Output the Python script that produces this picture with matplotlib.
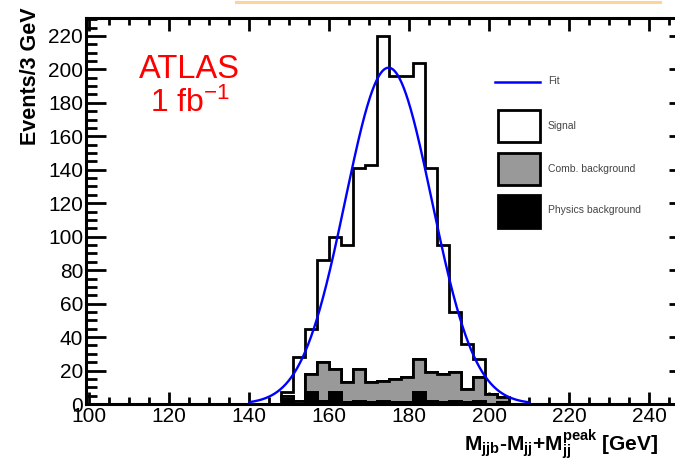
import numpy as np
import matplotlib
matplotlib.use("Agg")
import matplotlib.pyplot as plt
from matplotlib.lines import Line2D
from matplotlib.patches import Rectangle
from matplotlib.ticker import MultipleLocator

plt.rcParams["font.family"] = ["Liberation Sans", "DejaVu Sans"]
plt.rcParams["mathtext.fontset"] = "custom"
plt.rcParams["mathtext.rm"] = "Liberation Sans"
plt.rcParams["mathtext.bf"] = "Liberation Sans:bold"
plt.rcParams["mathtext.it"] = "Liberation Sans:italic"

# 3 GeV bins, lower edges from 148 GeV
bin_low = 148
bin_width = 3
physics_bkg = [3, 0, 7, 2, 7, 1, 2, 1, 2, 1, 1, 7, 2, 1, 2, 1, 2, 0, 1]
comb_bkg = [2, 2, 11, 23, 14, 12, 19, 12, 12, 14, 15, 20, 17, 17, 17, 8, 14, 6, 3]
signal = [2, 26, 27, 61, 79, 82, 120, 130, 206, 181, 180, 177, 122, 77, 36, 27, 11, 0, 0]

# Gaussian fit parameters
fit_amp = 201.0
fit_mean = 174.8
fit_sigma = 10.8
fit_range = (140.0, 210.0)

x_ticks = [100, 120, 140, 160, 180, 200, 220, 240]
y_ticks = [0, 20, 40, 60, 80, 100, 120, 140, 160, 180, 200, 220]

W, H = 675, 459
fig = plt.figure(figsize=(W / 100, H / 100), dpi=100)
ax = fig.add_axes([86 / W, (H - 404) / H, (W - 86) / W, (404 - 18) / H])

edges = bin_low + bin_width * np.arange(len(signal) + 1)
centers = 0.5 * (edges[:-1] + edges[1:])
ax.hist([centers] * 3, bins=edges, weights=[physics_bkg, comb_bkg, signal],
        stacked=True, histtype="stepfilled",
        color=["black", "#999999", "white"], edgecolor="black", linewidth=2.0,
        zorder=2)

xf = np.linspace(fit_range[0], fit_range[1], 400)
yf = fit_amp * np.exp(-0.5 * ((xf - fit_mean) / fit_sigma) ** 2)
ax.plot(xf, yf, color="#0000ff", lw=1.7, zorder=3)

ax.set_xlim(99.18, 246.4)
ax.set_ylim(0, 230.7)

ax.set_xticks(x_ticks)
ax.set_yticks(y_ticks)
ax.xaxis.set_minor_locator(MultipleLocator(5))
ax.yaxis.set_minor_locator(MultipleLocator(5))
ax.tick_params(axis="x", which="both", direction="in", top=True, bottom=True,
               width=2.0, labelsize=15, pad=2)
ax.tick_params(axis="x", which="major", length=9)
ax.tick_params(axis="x", which="minor", length=5)
ax.tick_params(axis="y", which="both", direction="in", left=True, right=False,
               width=2.0, labelsize=15, pad=2)
ax.tick_params(axis="y", which="major", length=14.5)
ax.tick_params(axis="y", which="minor", length=8)
for s in ["left", "bottom", "top"]:
    ax.spines[s].set_linewidth(2.2)
ax.spines["right"].set_visible(False)

# short major ticks on the right edge
axr = ax.twinx()
axr.set_ylim(ax.get_ylim())
axr.set_yticks(y_ticks[1:])
axr.tick_params(axis="y", direction="in", length=4, width=2.0, labelright=False)
for s in axr.spines.values():
    s.set_visible(False)

fig.text(31 / W, 1 - 7 / H, "Events/3 GeV", rotation=90, ha="center", va="top",
         fontsize=15.5, fontweight="bold")
fig.text(658 / W, 1 - 445 / H,
         r"$\mathbf{M_{jjb}}$-$\mathbf{M_{jj}}$+$\mathbf{M_{jj}^{peak}}$ [GeV]",
         ha="right", va="center", fontsize=15, fontweight="bold")

fig.text(189.5 / W, 1 - 69 / H, "ATLAS", color="#ff0000", fontsize=23.5,
         ha="center", va="center")
fig.text(190 / W, 1 - 112 / H, r"1 fb$^{\mathregular{-1}}$", color="#ff0000",
         fontsize=23, ha="center", va="baseline")

# legend
leg_x0, leg_x1 = 498 / W, 540 / W
fig.add_artist(Line2D([495 / W, 540 / W], [1 - 82 / H] * 2, color="#0000ff", lw=1.8))
boxes = [(110, 142, "white"), (153, 185, "#999999"), (195, 228, "black")]
for top, bot, c in boxes:
    fig.add_artist(Rectangle((leg_x0, 1 - bot / H), leg_x1 - leg_x0, (bot - top) / H,
                             facecolor=c, edgecolor="black", lw=2.0,
                             transform=fig.transFigure))
for yy, t in [(81, "Fit"), (126, "Signal"), (169, "Comb. background"),
              (210, "Physics background")]:
    fig.text(548 / W, 1 - yy / H, t, fontsize=7.5, color="#444444",
             ha="left", va="center")

# thin orange strip along the top
fig.add_artist(Line2D([236 / W, 660 / W], [1 - 1.5 / H] * 2, color="#fdd39a", lw=2.2))

fig.savefig("out.png", dpi=100)
